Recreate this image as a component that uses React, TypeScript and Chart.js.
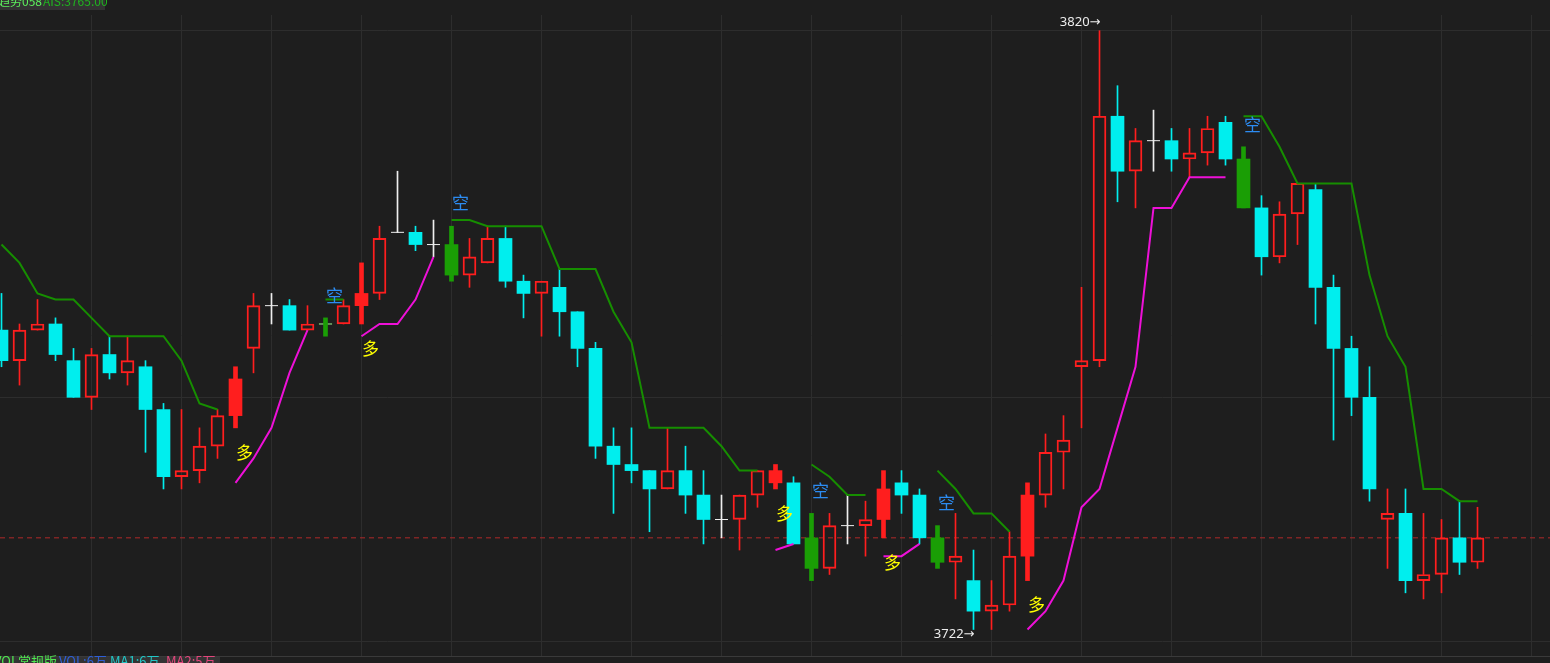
import React, { useEffect, useRef } from "react";
import { Chart, registerables } from "chart.js";

Chart.register(...registerables);

// ---------------- data ----------------
const opens = [
  3771, 3766, 3771, 3772, 3766, 3760, 3767, 3764, 3765, 3758,
  3747, 3748, 3752, 3757, 3768, 3775, 3775, 3771, 3772, 3772,
  3775, 3777, 3787, 3787, 3785, 3785, 3780, 3782, 3786, 3779,
  3777, 3778, 3774, 3768, 3752, 3749, 3748, 3745, 3748, 3744,
  3740, 3740, 3744, 3746, 3746, 3737, 3732, 3739, 3739, 3740,
  3746, 3744, 3737, 3733, 3730, 3725, 3726, 3734, 3744, 3751,
  3765, 3766, 3806, 3797, 3802, 3802, 3799, 3800, 3805, 3799,
  3791, 3783, 3790, 3794, 3778, 3768, 3760, 3740, 3741, 3730,
  3731, 3737, 3733,
];
const highs = [
  3777, 3772, 3776, 3773, 3768, 3768, 3770, 3770, 3766, 3759,
  3758, 3755, 3758, 3765, 3777, 3777, 3776, 3775, 3773, 3776,
  3782, 3788, 3797, 3788, 3789, 3788, 3786, 3788, 3788, 3780,
  3779, 3781, 3774, 3769, 3755, 3755, 3748, 3755, 3752, 3748,
  3744, 3744, 3748, 3749, 3747, 3741, 3741, 3744, 3743, 3748,
  3748, 3745, 3739, 3741, 3735, 3730, 3738, 3746, 3754, 3757,
  3778, 3820, 3811, 3804, 3807, 3804, 3804, 3806, 3806, 3801,
  3793, 3792, 3795, 3795, 3780, 3770, 3765, 3745, 3745, 3741,
  3740, 3743, 3742,
];
const lows = [
  3765, 3762, 3771, 3766, 3760, 3758, 3763, 3762, 3751, 3745,
  3745, 3746, 3750, 3755, 3764, 3772, 3771, 3771, 3770, 3772,
  3772, 3776, 3787, 3784, 3783, 3779, 3778, 3782, 3778, 3773,
  3770, 3770, 3765, 3750, 3741, 3746, 3738, 3745, 3741, 3736,
  3737, 3735, 3742, 3745, 3736, 3730, 3731, 3736, 3734, 3737,
  3741, 3736, 3732, 3727, 3722, 3722, 3725, 3730, 3742, 3745,
  3755, 3765, 3792, 3791, 3797, 3797, 3796, 3798, 3798, 3791,
  3780, 3782, 3785, 3772, 3753, 3757, 3743, 3732, 3728, 3727,
  3728, 3731, 3732,
];
const closes = [
  3766, 3771, 3772, 3767, 3760, 3767, 3764, 3766, 3758, 3747,
  3748, 3752, 3757, 3763, 3775, 3775, 3771, 3772, 3772, 3775,
  3777, 3786, 3787, 3785, 3785, 3780, 3783, 3786, 3779, 3777,
  3779, 3774, 3768, 3752, 3749, 3748, 3745, 3748, 3744, 3740,
  3740, 3744, 3748, 3748, 3736, 3732, 3739, 3739, 3740, 3745,
  3744, 3737, 3733, 3734, 3725, 3726, 3734, 3744, 3751, 3753,
  3766, 3806, 3797, 3802, 3802, 3799, 3800, 3804, 3799, 3791,
  3783, 3790, 3795, 3778, 3768, 3760, 3745, 3741, 3730, 3731,
  3737, 3733, 3737,
];

const N = null;
// short (green) trailing stop line
const shortStop: (number | null)[] = [
  3785, 3782, 3777, 3776, 3776, 3773, 3770, 3770, 3770, 3770, 3766, 3759, 3758,
  N, N, N, N, N,
  3776, 3776,
  N, N, N, N, N,
  3789, 3789, 3788, 3788, 3788, 3788, 3781, 3781, 3781, 3774, 3769, 3755, 3755, 3755, 3755, 3752, 3748, 3748,
  N, N,
  3749, 3747, 3744, 3744,
  N, N, N,
  3748, 3745, 3741, 3741, 3738,
  N, N, N, N, N, N, N, N, N, N, N, N,
  3806, 3806, 3801, 3795, 3795, 3795, 3795, 3780, 3770, 3765, 3745, 3745, 3743, 3743,
];
// long (magenta) trailing stop line
const longStop: (number | null)[] = [
  N, N, N, N, N, N, N, N, N, N, N, N, N,
  3746, 3750, 3755, 3764, 3771,
  N, N,
  3770, 3772, 3772, 3776, 3783,
  N, N, N, N, N, N, N, N, N, N, N, N, N, N, N, N, N, N,
  3735, 3736,
  N, N, N, N,
  3734, 3734, 3736,
  N, N, N, N, N,
  3722, 3725, 3730, 3742, 3745, 3755, 3765, 3791, 3791, 3796, 3796, 3796,
  N, N, N, N, N, N, N, N, N, N, N, N, N, N,
];

// signal markers
const longMarkIdx = [13, 20, 43, 49, 57];
const longMarkPrice = [3751, 3768, 3741, 3733, 3726];
const shortMarkIdx = [18, 25, 45, 52, 69];
const shortMarkPrice = [3776.7, 3791.8, 3744.7, 3742.7, 3804.7];

const refPrice = 3737;
const yGridPrices = [3720, 3760, 3820];
const xGridIdx = [5, 10, 15, 20, 25, 30, 35, 40, 45, 50, 55, 60, 65, 70, 75, 80, 85];

// ---------------- styles ----------------
const BG = "#1e1e1e";
const GRID = "#2d2d2d";
const RED = "#ff1e1e";
const CYAN = "#00eeee";
const SIG_GREEN = "#1a9e05";
const LINE_GREEN = "#168e00";
const MAGENTA = "#ee10d8";
const WHITE = "#eeeeee";

const X_MIN = -1.5 / 18;
const X_MAX = 1548.5 / 18;
const Y_MAX = 3822.57;
const Y_MIN = 3717.66;

export default function App() {
  const ref = useRef<HTMLCanvasElement>(null);

  useEffect(() => {
    const canvas = ref.current;
    if (!canvas) return;
    const n = opens.length;
    const idx = Array.from({ length: n }, (_, i) => i);
    const sigKind = idx.map((i) =>
      longMarkIdx.includes(i) ? 1 : shortMarkIdx.includes(i) ? -1 : 0
    );
    const colorOf = (i: number) =>
      closes[i] > opens[i] ? RED : closes[i] < opens[i] ? CYAN : WHITE;

    const normal = idx.filter((i) => sigKind[i] === 0);
    const ups = normal.filter((i) => closes[i] > opens[i]);
    const downs = normal.filter((i) => closes[i] < opens[i]);
    const dojis = idx.filter((i) => closes[i] === opens[i]);
    const sigs = idx.filter((i) => sigKind[i] !== 0);

    const barBase = {
      type: "bar" as const,
      grouped: false,
      borderSkipped: false as const,
      xAxisID: "x",
      yAxisID: "y",
    };

    const datasets: any[] = [
      {
        type: "line",
        data: idx.map((i) => ({ x: i, y: shortStop[i] })),
        borderColor: LINE_GREEN,
        borderWidth: 2,
        pointRadius: 0,
        spanGaps: false,
        tension: 0,
        order: 1,
      },
      {
        type: "line",
        data: idx.map((i) => ({ x: i, y: longStop[i] })),
        borderColor: MAGENTA,
        borderWidth: 2,
        pointRadius: 0,
        spanGaps: false,
        tension: 0,
        order: 1,
      },
      {
        ...barBase,
        data: sigs.map((i) => ({ x: i, y: [opens[i], closes[i]] })),
        backgroundColor: sigs.map((i) => (sigKind[i] > 0 ? RED : SIG_GREEN)),
        borderWidth: 0,
        barThickness: 13,
        order: 2,
      },
      {
        ...barBase,
        data: sigs.map((i) => ({ x: i, y: [lows[i], highs[i]] })),
        backgroundColor: sigs.map((i) => (sigKind[i] > 0 ? RED : SIG_GREEN)),
        borderWidth: 0,
        barThickness: 4,
        order: 3,
      },
      {
        type: "line",
        data: dojis.map((i) => ({ x: i, y: opens[i] })),
        showLine: false,
        pointStyle: "line",
        pointRadius: 6.5,
        pointBorderColor: WHITE,
        pointBorderWidth: 1,
        order: 4,
      },
      {
        ...barBase,
        data: ups.map((i) => ({ x: i, y: [opens[i], closes[i]] })),
        backgroundColor: "rgba(0,0,0,0)",
        borderColor: RED,
        borderWidth: 1.3,
        barThickness: 13,
        order: 4,
      },
      {
        ...barBase,
        data: downs.map((i) => ({ x: i, y: [closes[i], opens[i]] })),
        backgroundColor: CYAN,
        borderWidth: 0,
        barThickness: 13,
        order: 4,
      },
      {
        ...barBase,
        data: normal.map((i) => ({ x: i, y: [Math.max(opens[i], closes[i]), highs[i]] })),
        backgroundColor: normal.map(colorOf),
        borderWidth: 0,
        barThickness: 1,
        order: 5,
      },
      {
        ...barBase,
        data: normal.map((i) => ({ x: i, y: [lows[i], Math.min(opens[i], closes[i])] })),
        backgroundColor: normal.map(colorOf),
        borderWidth: 0,
        barThickness: 1,
        order: 5,
      },
      {
        type: "line",
        data: [
          { x: X_MIN - 1, y: refPrice },
          { x: X_MAX + 1, y: refPrice },
        ],
        borderColor: "#b02a2a",
        borderWidth: 1,
        borderDash: [5, 4],
        pointRadius: 0,
        order: 10,
      },
    ];

    const bgPlugin = {
      id: "bg",
      beforeDraw(chart: any) {
        const ctx = chart.ctx;
        ctx.save();
        ctx.fillStyle = BG;
        ctx.fillRect(0, 0, chart.width, chart.height);
        ctx.restore();
      },
    };

    const textPlugin = {
      id: "texts",
      afterDraw(chart: any) {
        const ctx = chart.ctx;
        const xs = chart.scales.x;
        const ys = chart.scales.y;
        ctx.save();
        // signal labels
        ctx.textAlign = "left";
        ctx.textBaseline = "middle";
        ctx.font = '17px "Noto Sans CJK SC"';
        ctx.fillStyle = "#ffff00";
        longMarkIdx.forEach((k, j) => {
          ctx.fillText("多", Math.round(xs.getPixelForValue(k)), ys.getPixelForValue(longMarkPrice[j]));
        });
        ctx.fillStyle = "#2c8cf2";
        shortMarkIdx.forEach((k, j) => {
          ctx.fillText("空", Math.round(xs.getPixelForValue(k)), ys.getPixelForValue(shortMarkPrice[j]));
        });

        // max / min annotations
        let hi = 0;
        let lo = 0;
        for (let i = 0; i < highs.length; i++) {
          if (highs[i] > highs[hi]) hi = i;
          if (lows[i] < lows[lo]) lo = i;
        }
        ctx.font = '13px "Noto Sans", "DejaVu Sans"';
        ctx.fillStyle = "#ececec";
        ctx.textAlign = "right";
        ctx.fillText(highs[hi] + "→", xs.getPixelForValue(hi) + 1, ys.getPixelForValue(highs[hi]) - 8.5);
        ctx.fillText(lows[lo] + "→", xs.getPixelForValue(lo) + 1, ys.getPixelForValue(lows[lo]) + 5);

        // top-left title box
        ctx.fillStyle = "#333333";
        ctx.fillRect(0, 0, 105, 10);
        ctx.textAlign = "left";
        ctx.textBaseline = "alphabetic";
        ctx.font = '12px "Noto Sans CJK SC"';
        ctx.fillStyle = "#5cf05c";
        ctx.fillText("趋势058", -2, 6);
        ctx.fillStyle = "#1fb51f";
        ctx.fillText("AIS:3765.00", 43, 6);

        // bottom panel header
        ctx.fillStyle = "#3a3a3a";
        ctx.fillRect(0, 656, chart.width, 1);
        ctx.fillStyle = "#333333";
        ctx.fillRect(0, 657, 220, 6);
        ctx.textBaseline = "top";
        ctx.font = '13px "Noto Sans CJK SC"';
        const parts: [string, string, number][] = [
          ["VOL常规版", "#4fe84f", -6],
          ["VOL:6万", "#2f5fd8", 59],
          ["MA1:6万", "#22c6c6", 110],
          ["MA2:5万", "#e2467c", 166],
        ];
        parts.forEach(([t, c, x]) => {
          ctx.fillStyle = c;
          ctx.fillText(t, x, 655);
        });
        ctx.restore();
      },
    };

    const chart = new Chart(canvas, {
      type: "bar",
      data: { datasets },
      options: {
        responsive: false,
        animation: false,
        devicePixelRatio: 1,
        events: [],
        layout: { autoPadding: false, padding: { top: 15, bottom: 7, left: 0, right: 0 } },
        plugins: { legend: { display: false }, tooltip: { enabled: false } },
        scales: {
          x: {
            type: "linear",
            min: X_MIN,
            max: X_MAX,
            offset: false,
            bounds: "data",
            afterBuildTicks: (s: any) => {
              s.ticks = xGridIdx.map((v) => ({ value: v }));
            },
            ticks: { display: false },
            grid: { color: GRID, drawTicks: false, offset: false, lineWidth: 1 },
            border: { display: false },
          },
          y: {
            type: "linear",
            min: Y_MIN,
            max: Y_MAX,
            beginAtZero: false,
            bounds: "data",
            afterBuildTicks: (s: any) => {
              s.ticks = yGridPrices.map((v) => ({ value: v }));
            },
            ticks: { display: false },
            grid: { color: GRID, drawTicks: false, lineWidth: 1 },
            border: { display: false },
          },
        },
      } as any,
      plugins: [bgPlugin, textPlugin],
    });
    return () => chart.destroy();
  }, []);

  return (
    <div
      style={{
        position: "fixed",
        left: 0,
        top: 0,
        width: 1550,
        height: 663,
        background: BG,
        overflow: "hidden",
      }}
    >
      <canvas ref={ref} width={1550} height={663} style={{ display: "block", width: 1550, height: 663 }} />
    </div>
  );
}
